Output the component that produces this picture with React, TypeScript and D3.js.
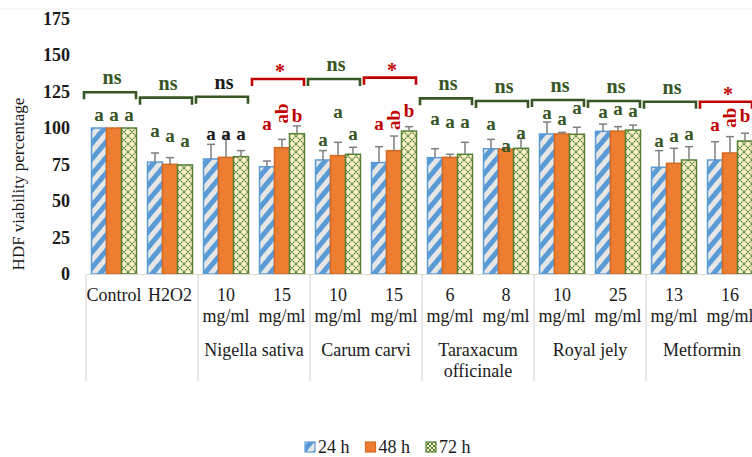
import React from "react";
import * as d3 from "d3";

const categories = ["Control", "H2O2", "10", "15", "10", "15", "6", "8", "10", "25", "13", "16"];
const subLabels = ["", "", "mg/ml", "mg/ml", "mg/ml", "mg/ml", "mg/ml", "mg/ml", "mg/ml", "mg/ml", "mg/ml", "mg/ml"];
const groupNames = [[""], ["Nigella sativa"], ["Carum carvi"], ["Taraxacum", "officinale"], ["Royal jely"], ["Metformin"]];
const groupStart = [0, 2, 4, 6, 8, 10];
const series = ["24 h", "48 h", "72 h"];

const values24 = [100, 76.7, 78.8, 73.5, 78.1, 76.3, 79.7, 85.8, 95.9, 97.7, 73.1, 78.1];
const err24 = [0, 6.2, 10, 3.9, 6.4, 10.9, 6.1, 6.4, 8.2, 5, 11.4, 12.5];
const values48 = [100, 75.1, 79.9, 86.5, 81.1, 84.5, 79.9, 85.6, 95.9, 97.9, 75.8, 82.9];
const err48 = [0, 4.6, 15, 5.7, 9.1, 10, 2.1, 1, 1.1, 3, 10.3, 11.2];
const values72 = [100, 74.7, 80.4, 96.1, 82.0, 97.9, 82.0, 86.1, 95.7, 98.6, 78.1, 91.1];
const err72 = [0, 0, 4.1, 5.3, 4.8, 3, 8.2, 6.8, 4.8, 3.4, 9.1, 5.3];

const letters24 = ["a", "a", "a", "a", "a", "a", "a", "a", "a", "a", "a", "a"];
const letters48 = ["a", "a", "a", "ab", "a", "ab", "a", "a", "a", "a", "a", "ab"];
const letters72 = ["a", "a", "a", "b", "a", "b", "a", "a", "a", "a", "a", "b"];
const letterAt24 = [104.8, 94, 91.8, 98.6, 87.7, 98.6, 102, 98.6, 106.2, 106.6, 87.2, 97.9];
const letterAt48 = [104.8, 90.6, 91.8, 110, 106.6, 105.5, 100.2, 83.8, 102, 108.9, 90.2, 107];
const letterAt72 = [104.8, 86.8, 91.8, 104.3, 91.8, 107.7, 100.2, 92.5, 109.4, 107.7, 91.8, 104.3];

const sigLabels = ["ns", "ns", "ns", "*", "ns", "*", "ns", "ns", "ns", "ns", "ns", "*"];
const textTone = ["green", "green", "black", "red", "green", "red", "green", "green", "green", "green", "green", "red"];
const bracketAt = [124.5, 120.8, 121.4, 133.6, 133.6, 134.5, 120.3, 118.5, 119.2, 118.5, 118, 118];

const yTicks = [0, 25, 50, 75, 100, 125, 150, 175];

const tones: Record<string, string> = { green: "#375623", red: "#c00000", black: "#1a1a1a" };
const serif = "'Liberation Serif', 'Times New Roman', serif";

export default function App() {
  const W = 752, H = 457;
  const x0 = d3.scaleBand<number>().domain(d3.range(categories.length)).range([86, 758]);
  const x1 = d3.scaleBand<string>().domain(series).range([5.5, 50.5]);
  const y = d3.scaleLinear().domain([0, 175]).range([274, 18.5]);
  const bw = x1.bandwidth();
  const cw = x0.bandwidth();

  const vals = [values24, values48, values72];
  const errs = [err24, err48, err72];
  const lets = [letters24, letters48, letters72];
  const letAt = [letterAt24, letterAt48, letterAt72];
  const fills = ["url(#p24)", "#ed7d31", "url(#p72)"];
  const strokes = ["#5b9bd5", "#d46a22", "#548235"];

  return (
    <svg width={W} height={H} style={{ position: "absolute", left: 0, top: 0, background: "#fff" }}>
      <defs>
        <pattern id="p24" width={10} height={10} patternUnits="userSpaceOnUse" patternTransform="rotate(40)">
          <rect width={10} height={10} fill="#e7e6e6" />
          <rect width={5} height={10} fill="#5b9bd5" />
        </pattern>
        <pattern id="p72" width={8} height={8} patternUnits="userSpaceOnUse">
          <rect width={8} height={8} fill="#fff2cc" />
          <path d="M0,0 L8,8 M8,0 L0,8" stroke="#548235" strokeWidth={1.3} strokeDasharray="1.5,0.8" />
        </pattern>
        <pattern id="l72" width={4} height={4} patternUnits="userSpaceOnUse">
          <rect width={4} height={4} fill="#fff2cc" />
          <path d="M0,0 L4,4 M4,0 L0,4" stroke="#548235" strokeWidth={1} />
        </pattern>
      </defs>
      <line x1={0} x2={W} y1={9} y2={9} stroke="#eeeeee" strokeWidth={1} />

      {yTicks.map((t) => (
        <text key={t} x={70} y={y(t)} dy="0.35em" textAnchor="end" fontFamily={serif} fontWeight="bold" fontSize={18} fill="#1a1a1a">
          {t}
        </text>
      ))}
      <text transform={`translate(24,${y(0) - 90}) rotate(-90)`} textAnchor="middle" fontFamily={serif} fontSize={17} fill="#1a1a1a">
        HDF viability percentage
      </text>

      {categories.map((_, i) =>
        series.map((s, k) => {
          const v = vals[k][i];
          const bx = (x0(i) as number) + (x1(s) as number);
          return (
            <rect key={`b${i}-${k}`} x={bx} y={y(v)} width={bw} height={y(0) - y(v)} fill={fills[k]} stroke={strokes[k]} strokeWidth={1.5} />
          );
        })
      )}

      {categories.map((_, i) =>
        series.map((s, k) => {
          const v = vals[k][i];
          const e = errs[k][i];
          if (!e) return null;
          const cx = (x0(i) as number) + (x1(s) as number) + bw / 2;
          return (
            <g key={`e${i}-${k}`} stroke="#7f7f7f" strokeWidth={1.5}>
              <line x1={cx} x2={cx} y1={y(v)} y2={y(v + e)} />
              <line x1={cx - 4} x2={cx + 4} y1={y(v + e)} y2={y(v + e)} />
            </g>
          );
        })
      )}

      <line x1={86} x2={758} y1={y(0) + 0.5} y2={y(0) + 0.5} stroke="#d9d9d9" strokeWidth={1.2} />

      {categories.map((_, i) =>
        series.map((s, k) => {
          const txt = lets[k][i];
          const cx = (x0(i) as number) + (x1(s) as number) + bw / 2;
          const fill = tones[textTone[i]];
          if (txt === "ab") {
            return (
              <text key={`l${i}-${k}`} transform={`translate(${cx},${y(letAt[k][i])}) rotate(-90)`} textAnchor="middle" dy="0.33em"
                fontFamily={serif} fontWeight="bold" fontSize={19} fill={fill}>
                {txt}
              </text>
            );
          }
          return (
            <text key={`l${i}-${k}`} x={cx} y={y(letAt[k][i])} textAnchor="middle" fontFamily={serif} fontWeight="bold" fontSize={19} fill={fill}>
              {txt}
            </text>
          );
        })
      )}

      {categories.map((_, i) => {
        const c = (x0(i) as number) + cw / 2 - 4;
        const top = y(bracketAt[i]);
        const col = sigLabels[i] === "*" ? tones.red : tones.green;
        const isStar = sigLabels[i] === "*";
        return (
          <g key={`br${i}`}>
            <path d={`M${c - 26},${top + 7} L${c - 26},${top} L${c + 26},${top} L${c + 26},${top + 7}`} fill="none" stroke={col} strokeWidth={2.6} />
            <text x={c + 2} y={isStar ? top - 1 : top - 8} textAnchor="middle" fontFamily={serif} fontWeight="bold" fontSize={20} fill={tones[textTone[i]]}>
              {sigLabels[i]}
            </text>
          </g>
        );
      })}

      {categories.map((c, i) => {
        const cx = (x0(i) as number) + cw / 2;
        return (
          <g key={`c${i}`} fontFamily={serif} fontSize={18} fill="#1a1a1a" textAnchor="middle">
            <text x={cx} y={301}>{c}</text>
            {subLabels[i] && <text x={cx} y={322}>{subLabels[i]}</text>}
          </g>
        );
      })}

      {groupStart.map((g, j) => {
        const gx = x0(g) as number;
        const gc = gx + cw;
        return (
          <g key={`g${j}`}>
            <line x1={gx} x2={gx} y1={y(0)} y2={381} stroke="#d9d9d9" strokeWidth={1.2} />
            {groupNames[j].map((n, r) => (
              <text key={r} x={gc} y={356 + r * 21} textAnchor="middle" fontFamily={serif} fontSize={18} fill="#1a1a1a">
                {n}
              </text>
            ))}
          </g>
        );
      })}

      {series.map((s, k) => {
        const lx = 305 + k * 60.5;
        return (
          <g key={`lg${k}`}>
            <rect x={lx} y={442} width={10} height={10} fill={k === 0 ? "url(#p24)" : k === 1 ? "#ed7d31" : "url(#l72)"} stroke={strokes[k]} strokeWidth={1.2} />
            <text x={lx + 13} y={453} fontFamily={serif} fontSize={18} fill="#1a1a1a">{s}</text>
          </g>
        );
      })}
    </svg>
  );
}
